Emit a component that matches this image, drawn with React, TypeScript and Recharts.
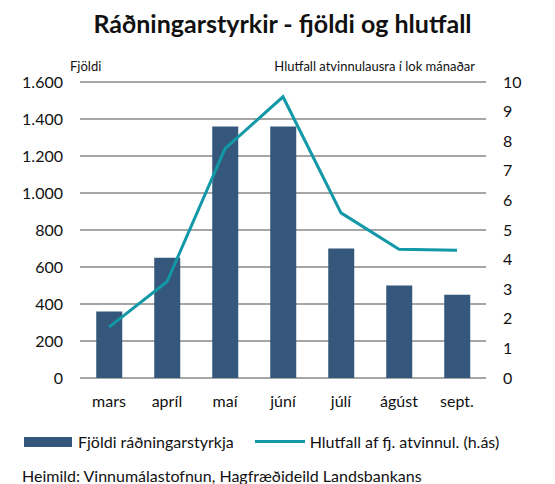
import { ComposedChart, Bar, Line, XAxis, YAxis, CartesianGrid, Legend } from "recharts";

// months
const months = ["mars", "apríl", "maí", "júní", "júlí", "ágúst", "sept."];
// number of hiring grants
const grants = [360, 650, 1360, 1360, 700, 500, 450];
// share of unemployed at month end (%)
const share = [1.72, 3.25, 7.75, 9.5, 5.58, 4.35, 4.32];

const leftTicks = [0, 200, 400, 600, 800, 1000, 1200, 1400, 1600];
const rightTicks = [0, 1, 2, 3, 4, 5, 6, 7, 8, 9, 10];

const data = months.map((m, i) => ({ month: m, grants: grants[i], share: share[i] }));

const BAR = "#34577B";
const LINE = "#1398A8";
const FONT = "Lato, 'Open Sans', sans-serif";

const fmt = (v: number) => v.toLocaleString("de-DE");

const LegendBox = () => (
  <div style={{ display: "flex", alignItems: "center", fontSize: 16, color: "#111", fontFamily: FONT }}>
    <span style={{ display: "inline-block", width: 48, height: 10, background: BAR, marginLeft: 24, marginRight: 6 }} />
    <span>Fjöldi ráðningarstyrkja</span>
    <span style={{ display: "inline-block", width: 50, height: 3, background: LINE, marginLeft: 21, marginRight: 5 }} />
    <span>Hlutfall af fj. atvinnul. (h.ás)</span>
  </div>
);

const App = () => {
  return (
    <div style={{ position: "absolute", left: 0, top: 0, width: 555, height: 484, background: "#fff", fontFamily: FONT }}>
      <div style={{ position: "absolute", top: 8, left: 0, width: 565, textAlign: "center", fontSize: 25, fontWeight: 700, color: "#111" }}>
        Ráðningarstyrkir - fjöldi og hlutfall
      </div>
      <div style={{ position: "absolute", top: 58, left: 70, fontSize: 13, color: "#111" }}>Fjöldi</div>
      <div style={{ position: "absolute", top: 58, right: 80, fontSize: 13, color: "#111" }}>
        Hlutfall atvinnulausra í lok mánaðar
      </div>
      <div style={{ position: "absolute", top: 466, left: 22, fontSize: 16, color: "#111" }}>
        Heimild: Vinnumálastofnun, Hagfræðideild Landsbankans
      </div>
      <ComposedChart
        width={555}
        height={484}
        data={data}
        margin={{ top: 82, right: 0, bottom: 76, left: 0 }}
        barCategoryGap="28%"
      >
        <CartesianGrid vertical={false} stroke="#a6a6a6" strokeWidth={2} yAxisId="left" />
        <XAxis
          dataKey="month"
          height={30}
          axisLine={false}
          tickLine={false}
          tickSize={0}
          tickMargin={18}
          interval={0}
          tick={{ fill: "#111", fontSize: 16, fontFamily: FONT }}
        />
        <YAxis
          yAxisId="left"
          width={80}
          domain={[0, 1600]}
          ticks={leftTicks}
          tickFormatter={fmt}
          axisLine={false}
          tickLine={false}
          tickSize={0}
          tickMargin={17}
          interval={0}
          tick={{ fill: "#111", fontSize: 16, fontFamily: FONT }}
        />
        <YAxis
          yAxisId="right"
          orientation="right"
          width={69}
          domain={[0, 10]}
          ticks={rightTicks}
          axisLine={false}
          tickLine={false}
          tickSize={0}
          tickMargin={17}
          interval={0}
          tick={{ fill: "#111", fontSize: 16, fontFamily: FONT }}
        />
        <Legend
          verticalAlign="middle"
          align="center"
          wrapperStyle={{ top: 432, left: 0, width: 555 }}
          content={() => <LegendBox />}
        />
        <Bar yAxisId="left" dataKey="grants" name="Fjöldi ráðningarstyrkja" fill={BAR} isAnimationActive={false} />
        <Line
          yAxisId="right"
          dataKey="share"
          name="Hlutfall af fj. atvinnul. (h.ás)"
          type="linear"
          stroke={LINE}
          strokeWidth={3}
          dot={false}
          isAnimationActive={false}
        />
      </ComposedChart>
    </div>
  );
};

export default App;
